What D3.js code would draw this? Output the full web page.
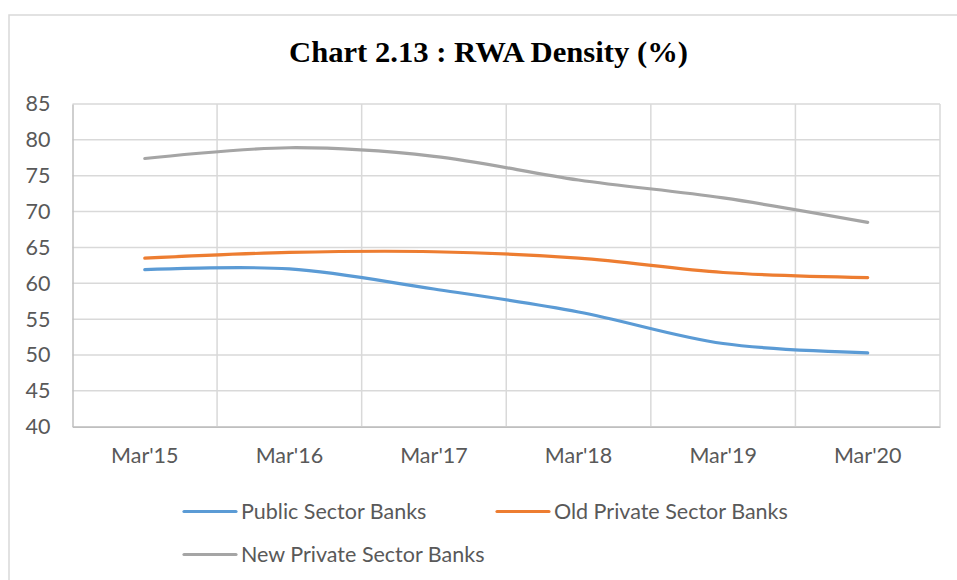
<!DOCTYPE html>
<html><head><meta charset="utf-8">
<script src="https://cdn.jsdelivr.net/npm/d3@7"></script>
<style>body{margin:0;background:#fff;}svg{display:block;}</style>
</head><body><svg id="c" width="957" height="580"></svg>
<script>
const categories = ["Mar'15","Mar'16","Mar'17","Mar'18","Mar'19","Mar'20"];
const publicBanks = [61.9, 62.0, 59.2, 56.0, 51.6, 50.3];
const oldPrivate = [63.5, 64.3, 64.4, 63.5, 61.5, 60.8];
const newPrivate = [77.4, 78.9, 77.7, 74.4, 71.9, 68.5];
const seriesNames = ["Public Sector Banks","Old Private Sector Banks","New Private Sector Banks"];
const colors = ["#5b9bd5","#ed7d31","#a5a5a5"];
const yTicks = [40,45,50,55,60,65,70,75,80,85];
const title = "Chart 2.13 : RWA Density (%)";

const svg = d3.select("#c");
const m = {l:72.5, r:940, t:104, b:426.7};
svg.append("rect").attr("x",9).attr("y",15).attr("width",960).attr("height",600)
  .attr("fill","none").attr("stroke","#d9d9d9").attr("stroke-width",1.5);

svg.append("text").attr("x",488.5).attr("y",62).attr("text-anchor","middle")
  .attr("font-family","Liberation Serif").attr("font-weight","bold").attr("font-size",29)
  .attr("fill","#000").attr("textLength",399).attr("lengthAdjust","spacingAndGlyphs").text(title);

const x = d3.scaleBand().domain(categories).range([m.l,m.r]);
const y = d3.scaleLinear().domain([40,85]).range([m.b,m.t]);

const grid = svg.append("g");
yTicks.forEach(t=>{
  grid.append("line").attr("x1",m.l).attr("x2",m.r).attr("y1",y(t)).attr("y2",y(t))
    .attr("stroke","#d9d9d9").attr("stroke-width",1.5);
});
categories.forEach((c,i)=>{
  grid.append("line").attr("x1",x(c)+x.bandwidth()).attr("x2",x(c)+x.bandwidth()).attr("y1",m.t).attr("y2",m.b)
    .attr("stroke","#d9d9d9").attr("stroke-width",1.5);
});
// axes
const yAxis = svg.append("g").attr("transform",`translate(${m.l},0)`)
  .call(d3.axisLeft(y).tickValues(yTicks).tickSize(0).tickPadding(22));
yAxis.select(".domain").attr("stroke","#bfbfbf").attr("stroke-width",1.5);
yAxis.selectAll("text").attr("font-family","Lato").attr("font-size",21.5).attr("fill","#595959");
const xAxis = svg.append("g").attr("transform",`translate(0,${m.b})`)
  .call(d3.axisBottom(x).tickSize(0).tickPadding(21));
xAxis.select(".domain").attr("stroke","#bfbfbf").attr("stroke-width",1.5);
xAxis.selectAll("text").attr("font-family","Lato").attr("font-size",21.5).attr("fill","#595959");

const line = d3.line().x((d,i)=>x(categories[i])+x.bandwidth()/2).y(d=>y(d)).curve(d3.curveCatmullRom.alpha(0.5));
[publicBanks, oldPrivate, newPrivate].forEach((s,i)=>{
  svg.append("path").attr("d",line(s)).attr("fill","none").attr("stroke",colors[i])
    .attr("stroke-width",3.2).attr("stroke-linecap","round");
});

// legend
const legPos = [[184,511.5],[497,511.5],[184,554.5]];
seriesNames.forEach((n,i)=>{
  const [lx,ly] = legPos[i];
  svg.append("line").attr("x1",lx).attr("x2",lx+52).attr("y1",ly).attr("y2",ly)
    .attr("stroke",colors[i]).attr("stroke-width",3.2).attr("stroke-linecap","round");
  svg.append("text").attr("x",lx+57).attr("y",ly).attr("dy","0.35em")
    .attr("font-family","Lato").attr("font-size",21.5).attr("fill","#595959").text(n);
});
</script></body></html>
